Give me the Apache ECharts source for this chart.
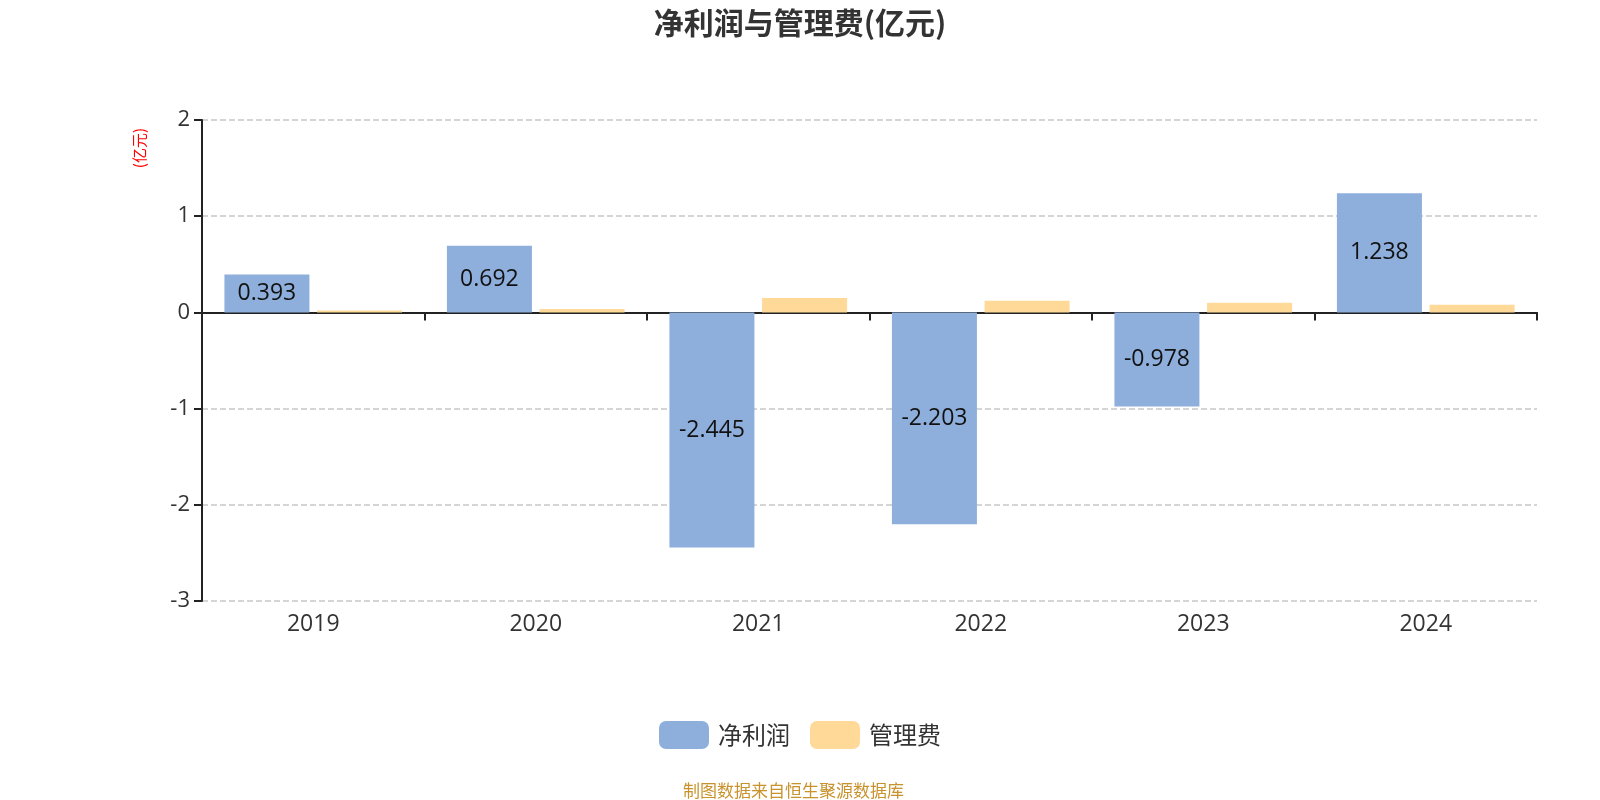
<!DOCTYPE html>
<html>
<head>
<meta charset="utf-8">
<script src="https://cdn.jsdelivr.net/npm/echarts@6/dist/echarts.min.js"></script>
<style>
  html, body { margin: 0; padding: 0; background: #fff; }
  #chart { width: 1600px; height: 800px; }
</style>
</head>
<body>
<div id="chart"></div>
<script>
// 年份
const years = ["2019", "2020", "2021", "2022", "2023", "2024"];
// 净利润(亿元)
const netProfit = [0.393, 0.692, -2.445, -2.203, -0.978, 1.238];
// 管理费(亿元)
const mgmtFee = [0.02, 0.035, 0.15, 0.12, 0.1, 0.08];

const font = '"Noto Sans CJK SC", "Noto Sans", sans-serif';
const numFont = '"Open Sans", "Noto Sans CJK SC", sans-serif';
let myChart = echarts.init(document.getElementById("chart"));
let option = {
  backgroundColor: "#fff",
  textStyle: { fontFamily: font },
  title: {
    text: "净利润与管理费(亿元)",
    left: "center",
    top: 3,
    textStyle: { fontSize: 30, fontWeight: "bold", color: "#333", fontFamily: font },
  },
  legend: {
    bottom: 46,
    itemWidth: 50,
    itemHeight: 28,
    itemGap: 20,
    textStyle: { fontSize: 24, color: "#333", fontFamily: font, padding: [0, 0, 0, 4] },
    data: ["净利润", "管理费"],
  },
  graphic: [
    {
      type: "text",
      left: 132,
      top: 128,
      style: { text: "(亿元)", fill: "#ff0000", font: "15px " + font },
      rotation: Math.PI / 2,
    },
    {
      type: "text",
      left: 683,
      bottom: 1,
      style: { text: "制图数据来自恒生聚源数据库", fill: "#c8922c", font: "17px " + font },
    },
  ],
  grid: { left: 202, right: 63, top: 120, bottom: 199 },
  xAxis: [
    {
      type: "category",
      data: years,
      axisLine: { onZero: true, lineStyle: { color: "#222", width: 2 } },
      axisTick: { show: true, length: 8, lineStyle: { color: "#222", width: 2 } },
      axisLabel: { show: false },
    },
    {
      type: "category",
      data: years,
      position: "bottom",
      axisLine: { show: false },
      axisTick: { show: false },
      axisLabel: { fontSize: 23, color: "#333", margin: 12, fontFamily: numFont },
    },
  ],
  yAxis: {
    type: "value",
    min: -3,
    max: 2,
    interval: 1,
    axisLine: { show: true, lineStyle: { color: "#222", width: 2 } },
    axisTick: { show: true, length: 8, lineStyle: { color: "#222", width: 2 } },
    axisLabel: { fontSize: 22, color: "#333", margin: 12, fontFamily: numFont },
    splitLine: { lineStyle: { type: "dashed", color: "#c8c8c8", width: 1.5 } },
  },
  series: [
    {
      name: "净利润",
      type: "bar",
      xAxisIndex: 0,
      barWidth: 85,
      barGap: "9%",
      itemStyle: { color: "#8eaedb" },
      label: {
        show: true,
        position: "inside",
        color: "#111",
        fontSize: 23,
        fontFamily: numFont,
      },
      data: netProfit,
    },
    {
      name: "管理费",
      type: "bar",
      xAxisIndex: 0,
      barWidth: 85,
      itemStyle: { color: "#fed997" },
      data: mgmtFee,
    },
  ],
};
myChart.setOption(option);
</script>
</body>
</html>
